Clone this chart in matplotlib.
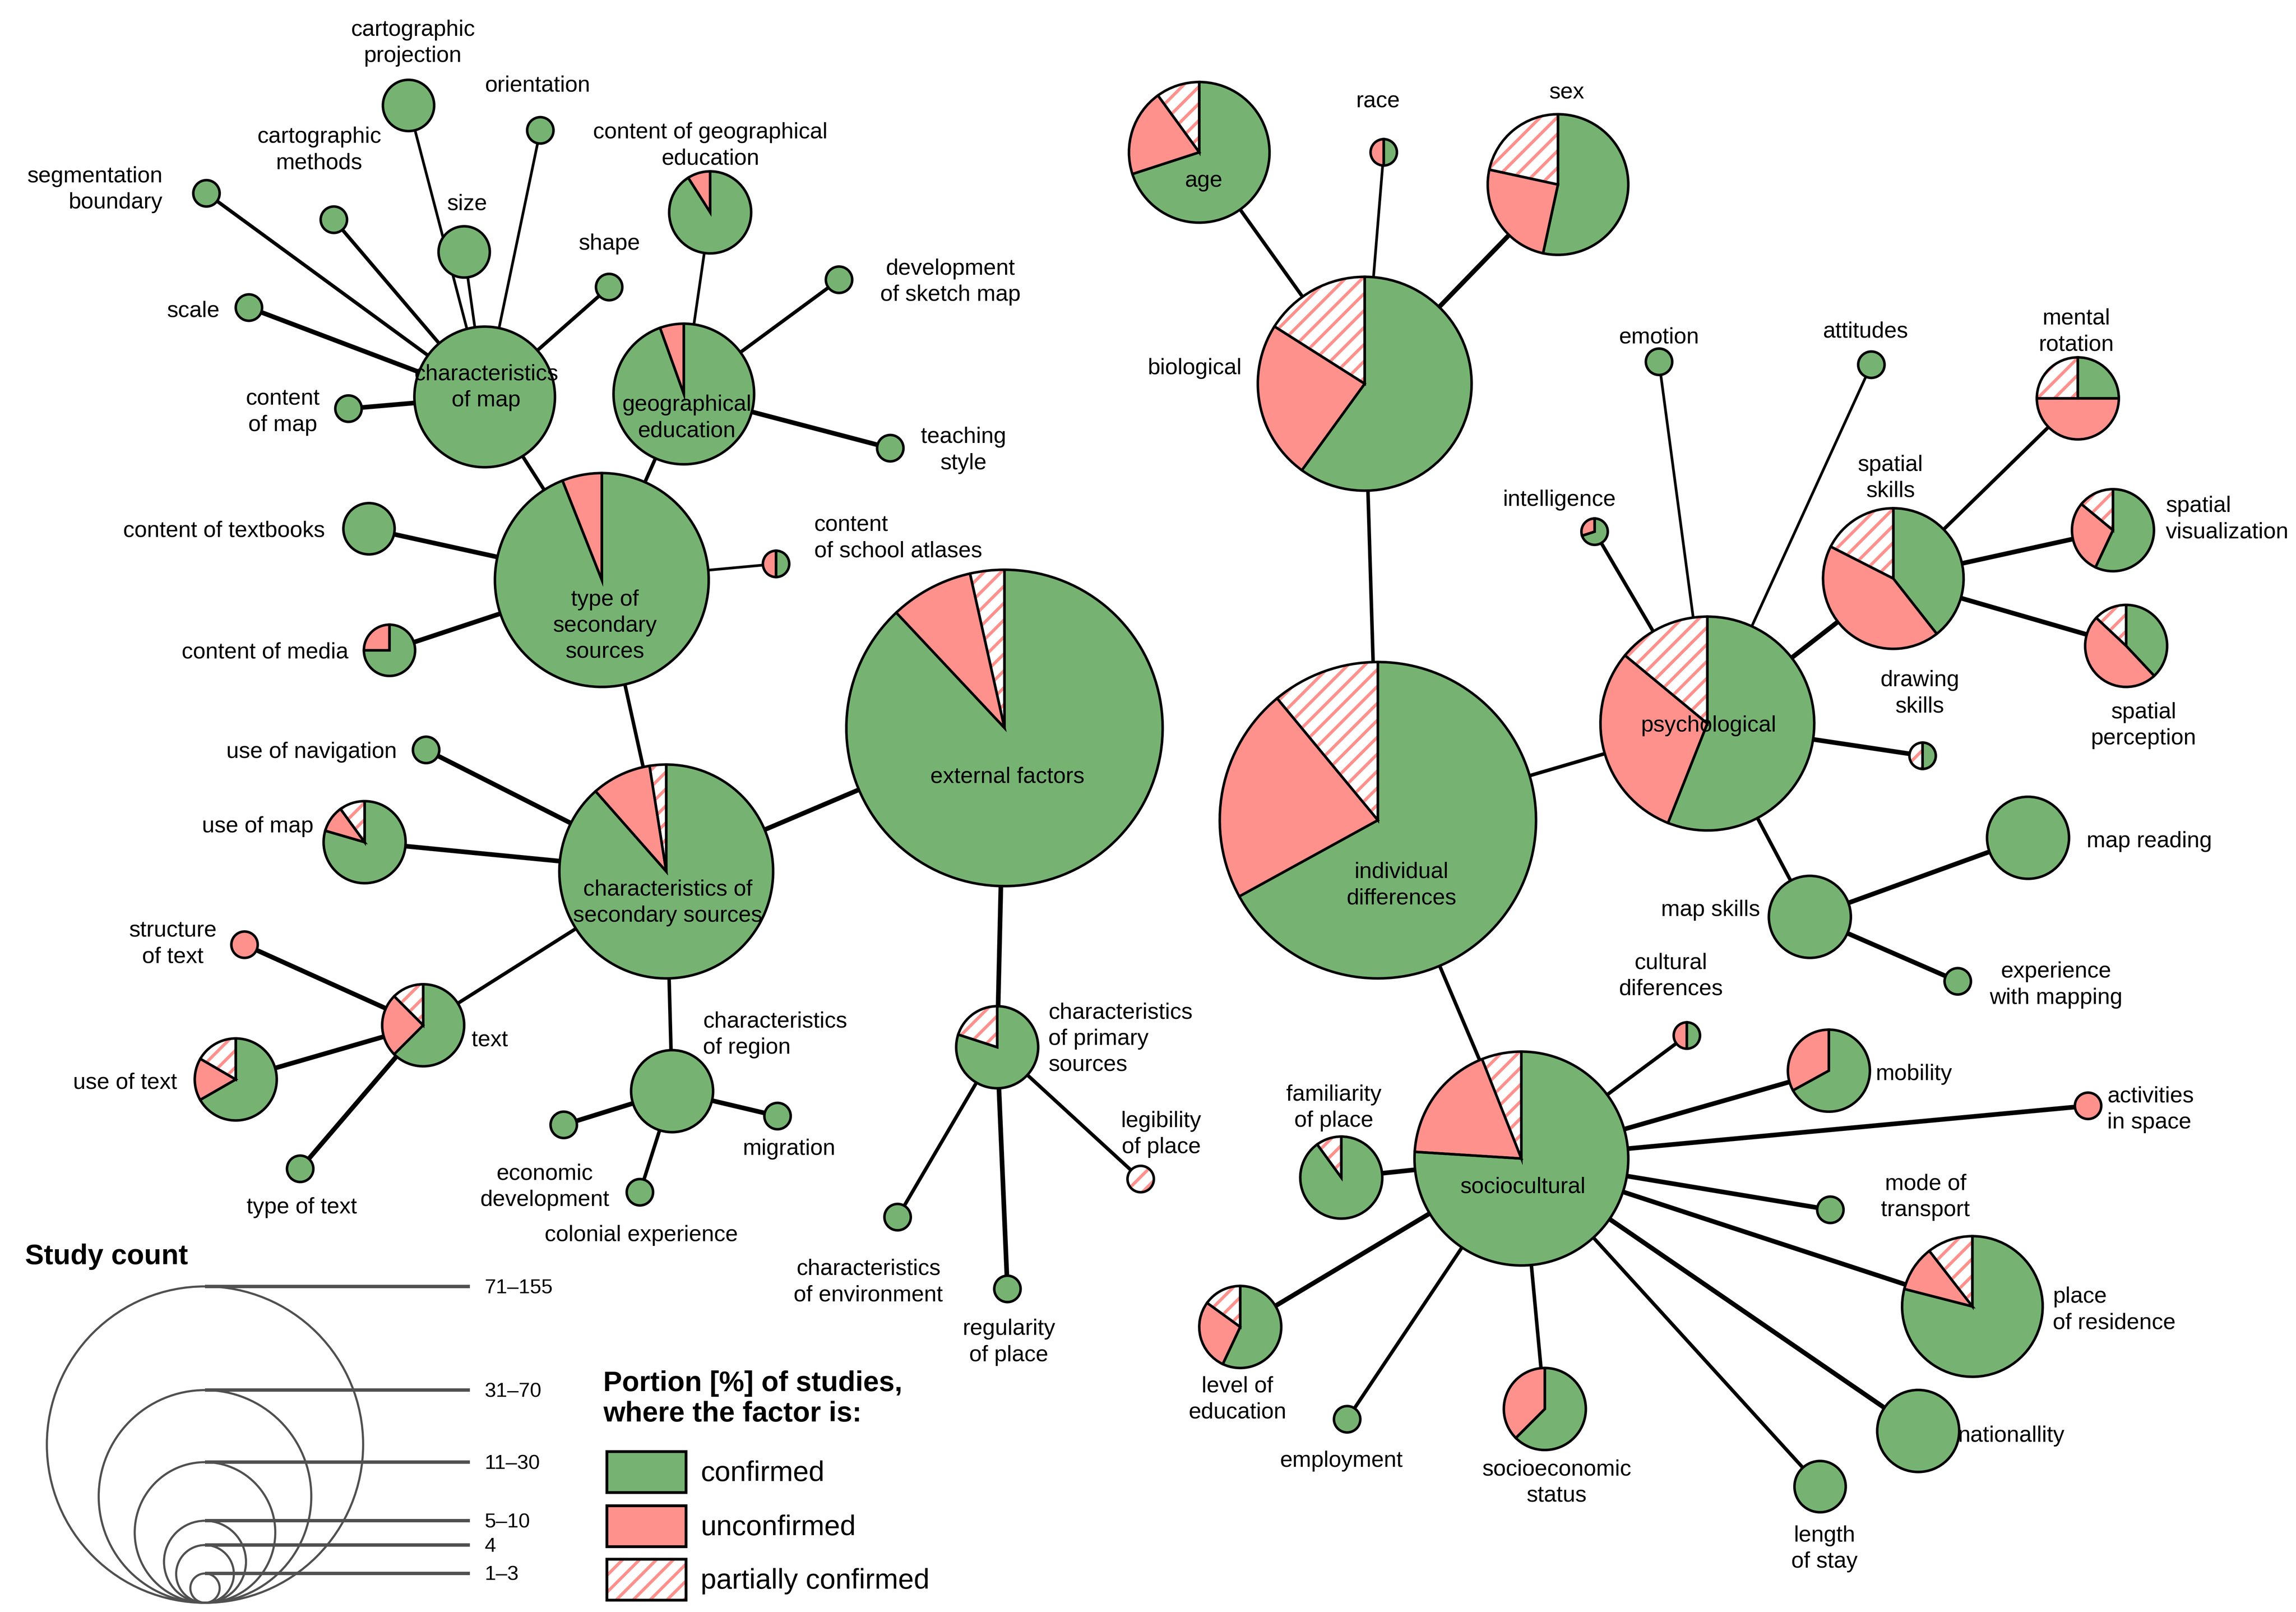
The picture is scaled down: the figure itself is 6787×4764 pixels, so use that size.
import matplotlib
matplotlib.use("Agg")
import matplotlib.pyplot as plt
from matplotlib.patches import Wedge, Circle, Rectangle

plt.rcParams['font.family'] = ['Liberation Sans', 'DejaVu Sans']
plt.rcParams['hatch.linewidth'] = 2.2

GREEN = '#76b372'
RED = '#ff918d'

# ---- data ----
count_bins = ['1–3', '4', '5–10', '11–30', '31–70', '71–155']

factor_ids = ['ext', 'tss', 'css', 'cmap', 'ged', 'cged', 'dsm', 'tst', 'csa', 'ctb',
              'cmed', 'unav', 'umap', 'text', 'stext', 'utext', 'ttext', 'creg', 'econ', 'colo',
              'migr', 'cps', 'cenv', 'regp', 'legp', 'proj', 'orie', 'cmet', 'segb', 'size',
              'shap', 'scal', 'com', 'ind', 'bio', 'age', 'race', 'sex', 'psy', 'emo',
              'att', 'intl', 'ssk', 'mrot', 'svis', 'sper', 'draw', 'mski', 'mrea', 'expm',
              'soc', 'cult', 'mob', 'act', 'mode', 'pres', 'nat', 'los', 'ses', 'emp',
              'led', 'fam']

factor_labels = ['external factors', 'type of\nsecondary\nsources', 'characteristics of\nsecondary sources',
                 'characteristics\nof map', 'geographical\neducation', 'content of geographical\neducation',
                 'development\nof sketch map', 'teaching\nstyle', 'content\nof school atlases',
                 'content of textbooks', 'content of media', 'use of navigation', 'use of map', 'text',
                 'structure\nof text', 'use of text', 'type of text', 'characteristics\nof region',
                 'economic\ndevelopment', 'colonial experience', 'migration',
                 'characteristics\nof primary\nsources', 'characteristics\nof environment',
                 'regularity\nof place', 'legibility\nof place', 'cartographic\nprojection', 'orientation',
                 'cartographic\nmethods', 'segmentation\nboundary', 'size', 'shape', 'scale',
                 'content\nof map', 'individual\ndifferences', 'biological', 'age', 'race', 'sex',
                 'psychological', 'emotion', 'attitudes', 'intelligence', 'spatial\nskills',
                 'mental\nrotation', 'spatial\nvisualization', 'spatial\nperception', 'drawing\nskills',
                 'map skills', 'map reading', 'experience\nwith mapping', 'sociocultural',
                 'cultural\ndiferences', 'mobility', 'activities\nin space', 'mode of\ntransport',
                 'place\nof residence', 'nationallity', 'length\nof stay', 'socioeconomic\nstatus',
                 'employment', 'level of\neducation', 'familiarity\nof place']

# index into count_bins
count_class = [5, 4, 4, 3, 3, 2, 0, 0, 0, 1,
               1, 0, 2, 2, 0, 2, 0, 2, 0, 0,
               0, 2, 0, 0, 0, 1, 0, 0, 0, 1,
               0, 0, 0, 5, 4, 3, 0, 3, 4, 0,
               0, 0, 3, 2, 2, 2, 0, 2, 2, 0,
               4, 0, 2, 0, 0, 3, 2, 1, 2, 0,
               2, 2]

# portion [%] of studies: confirmed / unconfirmed / partially confirmed
confirmed = [88, 94, 88.5, 100, 94.5, 91, 100, 100, 50, 100,
             75, 100, 79.5, 62.5, 0, 66.7, 100, 100, 100, 100,
             100, 80, 100, 100, 0, 100, 100, 100, 100, 100,
             100, 100, 100, 67, 60, 70, 50, 53.4, 56, 100,
             100, 70, 39.4, 25, 57, 38, 50, 100, 100, 100,
             76, 50, 67, 0, 100, 79, 100, 100, 62.5, 100,
             57, 90]
unconfirmed = [8.5, 6, 9, 0, 5.5, 9, 0, 0, 50, 0,
               25, 0, 10.5, 25, 100, 16.7, 0, 0, 0, 0,
               0, 0, 0, 0, 0, 0, 0, 0, 0, 0,
               0, 0, 0, 22, 24, 20, 50, 25, 30, 0,
               0, 30, 43.1, 50, 29, 49, 0, 0, 0, 0,
               18, 50, 33, 100, 0, 10.5, 0, 0, 37.5, 0,
               28, 0]
partially = [3.5, 0, 2.5, 0, 0, 0, 0, 0, 0, 0,
             0, 0, 10, 12.5, 0, 16.6, 0, 0, 0, 0,
             0, 20, 0, 0, 100, 0, 0, 0, 0, 0,
             0, 0, 0, 11, 16, 10, 0, 21.6, 14, 0,
             0, 0, 17.5, 25, 14, 13, 50, 0, 0, 0,
             6, 0, 0, 0, 0, 10.5, 0, 0, 0, 0,
             15, 10]

edges = [('ext', 'css'), ('ext', 'cps'),
         ('tss', 'css'), ('tss', 'cmap'), ('tss', 'ged'), ('tss', 'ctb'), ('tss', 'cmed'), ('tss', 'csa'),
         ('css', 'unav'), ('css', 'umap'), ('css', 'text'), ('css', 'creg'),
         ('text', 'stext'), ('text', 'utext'), ('text', 'ttext'),
         ('creg', 'econ'), ('creg', 'colo'), ('creg', 'migr'),
         ('cps', 'cenv'), ('cps', 'regp'), ('cps', 'legp'),
         ('cmap', 'segb'), ('cmap', 'cmet'), ('cmap', 'proj'), ('cmap', 'size'), ('cmap', 'orie'),
         ('cmap', 'shap'), ('cmap', 'scal'), ('cmap', 'com'),
         ('ged', 'cged'), ('ged', 'dsm'), ('ged', 'tst'),
         ('ind', 'bio'), ('ind', 'psy'), ('ind', 'soc'),
         ('bio', 'age'), ('bio', 'race'), ('bio', 'sex'),
         ('psy', 'emo'), ('psy', 'att'), ('psy', 'intl'), ('psy', 'ssk'), ('psy', 'draw'), ('psy', 'mski'),
         ('ssk', 'mrot'), ('ssk', 'svis'), ('ssk', 'sper'),
         ('mski', 'mrea'), ('mski', 'expm'),
         ('soc', 'cult'), ('soc', 'mob'), ('soc', 'act'), ('soc', 'mode'), ('soc', 'pres'), ('soc', 'nat'),
         ('soc', 'los'), ('soc', 'ses'), ('soc', 'emp'), ('soc', 'led'), ('soc', 'fam')]

portion_labels = ['confirmed', 'unconfirmed', 'partially confirmed']

# ---- layout (canvas units, y downwards) ----
node_xy = {
    'ext': (686, 497), 'tss': (411, 396), 'css': (455, 595), 'cmap': (331, 271), 'ged': (467, 269),
    'cged': (485, 145), 'dsm': (573, 191), 'tst': (608, 306), 'csa': (530, 385), 'ctb': (252, 361),
    'cmed': (266, 444), 'unav': (291, 512), 'umap': (249, 575), 'text': (289, 700), 'stext': (167, 645),
    'utext': (161, 737), 'ttext': (205, 798), 'creg': (459, 745), 'econ': (385, 768), 'colo': (437, 814),
    'migr': (531, 762), 'cps': (681, 715), 'cenv': (613, 831), 'regp': (688, 880), 'legp': (779, 805),
    'proj': (279, 72), 'orie': (369, 89), 'cmet': (228, 150), 'segb': (141, 132), 'size': (317, 172),
    'shap': (416, 196), 'scal': (170, 210), 'com': (238, 279),
    'ind': (941, 560), 'bio': (932, 262), 'age': (819, 104), 'race': (945, 104), 'sex': (1064, 126),
    'psy': (1166, 494), 'emo': (1133, 247), 'att': (1278, 249), 'intl': (1089, 363), 'ssk': (1293, 395),
    'mrot': (1419, 272), 'svis': (1443, 362), 'sper': (1452, 441), 'draw': (1313, 516), 'mski': (1236, 626),
    'mrea': (1385, 572), 'expm': (1337, 670), 'soc': (1039, 791), 'cult': (1152, 707), 'mob': (1249, 731),
    'act': (1426, 755), 'mode': (1250, 826), 'pres': (1347, 892), 'nat': (1310, 977), 'los': (1243, 1015),
    'ses': (1055, 962), 'emp': (920, 969), 'led': (847, 906), 'fam': (916, 804),
}
label_xy = {
    'ext': (688, 529, 'center'), 'tss': (413, 426, 'center'), 'css': (456, 615, 'center'),
    'cmap': (332, 263, 'center'), 'ged': (469, 284, 'center'), 'cged': (485, 98, 'center'),
    'dsm': (649, 191, 'center'), 'tst': (658, 306, 'center'), 'csa': (556, 366, 'left'),
    'ctb': (222, 361, 'right'), 'cmed': (238, 444, 'right'), 'unav': (271, 512, 'right'),
    'umap': (214, 563, 'right'), 'text': (322, 709, 'left'), 'stext': (118, 643, 'center'),
    'utext': (121, 738, 'right'), 'ttext': (206, 823, 'center'), 'creg': (480, 705, 'left'),
    'econ': (372, 809, 'center'), 'colo': (438, 842, 'center'), 'migr': (539, 783, 'center'),
    'cps': (716, 708, 'left'), 'cenv': (593, 874, 'center'), 'regp': (689, 915, 'center'),
    'legp': (793, 773, 'center'), 'proj': (282, 28, 'center'), 'orie': (367, 57, 'center'),
    'cmet': (218, 101, 'center'), 'segb': (111, 128, 'right'), 'size': (319, 138, 'center'),
    'shap': (416, 165, 'center'), 'scal': (150, 211, 'right'), 'com': (193, 280, 'center'),
    'ind': (957, 603, 'center'), 'bio': (848, 250, 'right'), 'age': (822, 122, 'center'),
    'race': (941, 68, 'center'), 'sex': (1070, 62, 'center'), 'psy': (1167, 494, 'center'),
    'emo': (1133, 229, 'center'), 'att': (1274, 225, 'center'), 'intl': (1065, 340, 'center'),
    'ssk': (1291, 325, 'center'), 'mrot': (1418, 225, 'center'), 'svis': (1479, 353, 'left'),
    'sper': (1464, 494, 'center'), 'draw': (1311, 472, 'center'), 'mski': (1202, 620, 'right'),
    'mrea': (1425, 573, 'left'), 'expm': (1404, 671, 'center'), 'soc': (1040, 809, 'center'),
    'cult': (1141, 665, 'center'), 'mob': (1281, 732, 'left'), 'act': (1439, 756, 'left'),
    'mode': (1315, 816, 'center'), 'pres': (1402, 893, 'left'), 'nat': (1337, 979, 'left'),
    'los': (1246, 1056, 'center'), 'ses': (1063, 1011, 'center'), 'emp': (916, 996, 'center'),
    'led': (845, 954, 'center'), 'fam': (911, 755, 'center'),
}
node_radius = [9, 17.5, 28, 48, 73, 108]
legend_radius = [10, 19.7, 28, 48, 72.6, 108]

# edge line widths: 1 thin, 2 medium, 3 thick
edge_w = {1: 1.9, 2: 2.5, 3: 3.3}
edge_style = {
    ('ext', 'css'): 3, ('ext', 'cps'): 3, ('tss', 'css'): 2, ('tss', 'cmap'): 2, ('tss', 'ged'): 2,
    ('tss', 'ctb'): 3, ('tss', 'cmed'): 3, ('tss', 'csa'): 1, ('css', 'unav'): 3, ('css', 'umap'): 3,
    ('css', 'text'): 2, ('css', 'creg'): 2, ('text', 'stext'): 3, ('text', 'utext'): 3, ('text', 'ttext'): 3,
    ('creg', 'econ'): 3, ('creg', 'colo'): 2, ('creg', 'migr'): 3, ('cps', 'cenv'): 2, ('cps', 'regp'): 3,
    ('cps', 'legp'): 2, ('cmap', 'segb'): 2, ('cmap', 'cmet'): 2, ('cmap', 'proj'): 1, ('cmap', 'size'): 1,
    ('cmap', 'orie'): 1, ('cmap', 'shap'): 2, ('cmap', 'scal'): 3, ('cmap', 'com'): 3, ('ged', 'cged'): 1,
    ('ged', 'dsm'): 2, ('ged', 'tst'): 3, ('ind', 'bio'): 2, ('ind', 'psy'): 2, ('ind', 'soc'): 2,
    ('bio', 'age'): 2, ('bio', 'race'): 1, ('bio', 'sex'): 3, ('psy', 'emo'): 1, ('psy', 'att'): 1,
    ('psy', 'intl'): 2, ('psy', 'ssk'): 3, ('psy', 'draw'): 3, ('psy', 'mski'): 2, ('ssk', 'mrot'): 2,
    ('ssk', 'svis'): 3, ('ssk', 'sper'): 3, ('mski', 'mrea'): 3, ('mski', 'expm'): 3, ('soc', 'cult'): 2,
    ('soc', 'mob'): 3, ('soc', 'act'): 3, ('soc', 'mode'): 3, ('soc', 'pres'): 3, ('soc', 'nat'): 3,
    ('soc', 'los'): 2, ('soc', 'ses'): 2, ('soc', 'emp'): 2, ('soc', 'led'): 3, ('soc', 'fam'): 3,
}

W, H = 1568, 1100.6
fig = plt.figure(figsize=(6787 / 300, 4764 / 300), dpi=300)
ax = fig.add_axes([0, 0, 1, 1])
ax.set_xlim(0, W)
ax.set_ylim(H, 0)
ax.axis('off')

FS = 16


def draw_pie(cx, cy, r, parts, z=3):
    # clockwise from 12 o'clock (y axis is inverted, so data angles grow clockwise)
    total = sum(parts)
    start = -90.0
    spans = []
    for k, v in enumerate(parts):
        if v <= 0:
            continue
        sweep = 360.0 * v / total
        spans.append((k, start, start + sweep))
        start += sweep
    for k, t1, t2 in spans:
        if k == 2:
            ax.add_patch(Wedge((cx, cy), r, t1, t2, facecolor='white', edgecolor=RED,
                               hatch='//', lw=0, zorder=z))
        else:
            ax.add_patch(Wedge((cx, cy), r, t1, t2, facecolor=[GREEN, RED][k],
                               edgecolor='none', lw=0, zorder=z))
    for k, t1, t2 in spans:
        ax.add_patch(Wedge((cx, cy), r, t1, t2, facecolor='none', edgecolor='black',
                           lw=1.8, zorder=z + 0.1))


idx = {f: i for i, f in enumerate(factor_ids)}

for a, b in edges:
    (x1, y1), (x2, y2) = node_xy[a], node_xy[b]
    ax.plot([x1, x2], [y1, y2], color='black', lw=edge_w[edge_style[(a, b)]],
            solid_capstyle='butt', zorder=1)

for f in factor_ids:
    i = idx[f]
    x, y = node_xy[f]
    draw_pie(x, y, node_radius[count_class[i]], [confirmed[i], unconfirmed[i], partially[i]])
    lx, ly, ha = label_xy[f]
    ax.text(lx, ly + 1.5, factor_labels[i], ha=ha, va='center', multialignment=ha,
            fontsize=FS, linespacing=1.32, zorder=5)

# ---- study count legend ----
ax.text(17, 858, 'Study count', fontsize=20, fontweight='bold', ha='left', va='center')
base_x, base_y = 140, 1094.3
for lab, r in zip(count_bins, legend_radius):
    ax.add_patch(Circle((base_x, base_y - r), r, fill=False, ec='#505050', lw=1.5, zorder=2))
    top = base_y - 2 * r
    ax.plot([base_x, 321], [top, top], color='#505050', lw=2.4, solid_capstyle='butt', zorder=2)
    ax.text(331, top + 1, lab, fontsize=14.5, ha='left', va='center')

# ---- portion legend ----
ax.text(412, 955, 'Portion [%] of studies,\nwhere the factor is:', fontsize=20,
        fontweight='bold', ha='left', va='center', linespacing=1.2)
box_y = [991, 1028, 1064.5]
for k, (lab, y0) in enumerate(zip(portion_labels, box_y)):
    if k == 2:
        ax.add_patch(Rectangle((414.5, y0), 54, 28, facecolor='white', edgecolor=RED,
                               hatch='//', lw=0, zorder=2))
    else:
        ax.add_patch(Rectangle((414.5, y0), 54, 28, facecolor=[GREEN, RED][k],
                               edgecolor='none', zorder=2))
    ax.add_patch(Rectangle((414.5, y0), 54, 28, facecolor='none', edgecolor='black',
                           lw=2.0, zorder=3))
    ax.text(478.5, y0 + 15, lab, fontsize=20, ha='left', va='center')

fig.savefig('out.png', dpi=300)
